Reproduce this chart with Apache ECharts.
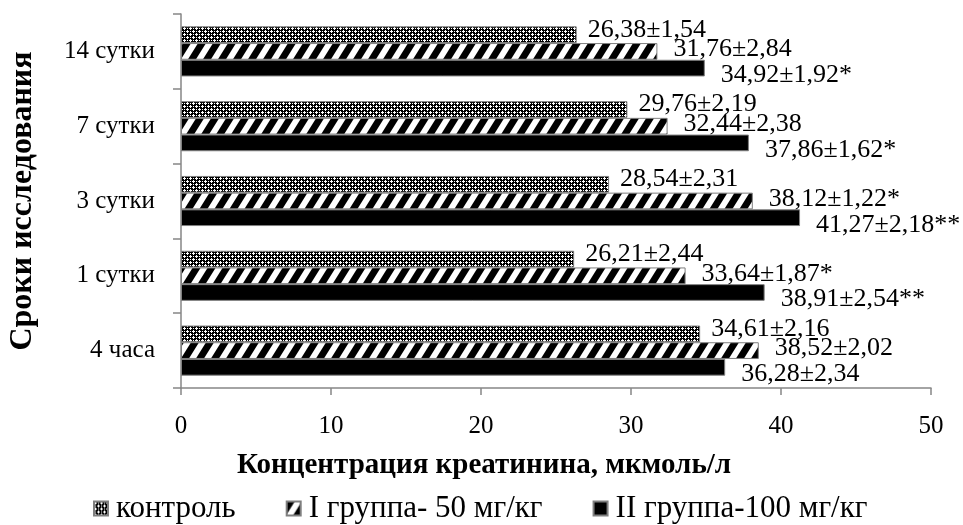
<!DOCTYPE html>
<html>
<head>
<meta charset="utf-8">
<script src="https://cdn.jsdelivr.net/npm/echarts@6/dist/echarts.min.js"></script>
<style>
html,body{margin:0;padding:0;background:#fff;}
#chart{width:963px;height:525px;}
</style>
</head>
<body>
<div id="chart"></div>
<script>
// Categories from bottom to top
var categories = ['4 часа', '1 сутки', '3 сутки', '7 сутки', '14 сутки'];
var seriesNames = ['контроль', 'I группа- 50 мг/кг', 'II группа-100 мг/кг'];

var controlMean = [34.61, 26.21, 28.54, 29.76, 26.38];
var controlSD   = [2.16, 2.44, 2.31, 2.19, 1.54];
var controlMark = ['', '', '', '', ''];

var group1Mean = [38.52, 33.64, 38.12, 32.44, 31.76];
var group1SD   = [2.02, 1.87, 1.22, 2.38, 2.84];
var group1Mark = ['', '*', '*', '', ''];

var group2Mean = [36.28, 38.91, 41.27, 37.86, 34.92];
var group2SD   = [2.34, 2.54, 2.18, 1.62, 1.92];
var group2Mark = ['', '**', '**', '*', '*'];

var xTicks = { min: 0, max: 50, interval: 10 };

function fmt(v) { return v.toFixed(2).replace('.', ','); }
function labels(mean, sd, mark) {
  return mean.map(function (m, i) { return fmt(m) + '±' + fmt(sd[i]) + mark[i]; });
}

function makeTile(w, h, draw) {
  var c = document.createElement('canvas');
  c.width = w; c.height = h;
  var ctx = c.getContext('2d');
  ctx.fillStyle = '#fff';
  ctx.fillRect(0, 0, w, h);
  ctx.fillStyle = '#000';
  draw(ctx);
  return c;
}

// Control: dark ground with small white crosses
var ctrlRows = [
  '#.####',
  '...#.#',
  '#.####',
  '####.#',
  '#.#...',
  '####.#'
];
var ctrlTile = makeTile(6, 6, function (ctx) {
  for (var y = 0; y < ctrlRows.length; y++) {
    for (var x = 0; x < ctrlRows[y].length; x++) {
      if (ctrlRows[y][x] === '#') ctx.fillRect(x, y, 1, 1);
    }
  }
});

// Group I: wide forward diagonal stripes
var SW = 15, SH = 24, BW = 8;
var stripeTile = makeTile(SW, SH, function (ctx) {
  for (var k = -1; k <= 1; k++) {
    var a = k * SW;
    ctx.beginPath();
    ctx.moveTo(a + SW, 0);
    ctx.lineTo(a + SW + BW, 0);
    ctx.lineTo(a + BW, SH);
    ctx.lineTo(a, SH);
    ctx.closePath();
    ctx.fill();
  }
});

var ctrlColor = { image: ctrlTile, repeat: 'repeat' };
var stripeColor = { image: stripeTile, repeat: 'repeat' };

var FONT = "'Liberation Serif', 'Times New Roman', serif";

function barSeries(name, mean, lbls, color, dist, dy) {
  return {
    name: name,
    type: 'bar',
    data: mean,
    barGap: '0%',
    barCategoryGap: '33%',
    itemStyle: { color: color, borderColor: '#7f7f7f', borderWidth: 1 },
    label: {
      show: true,
      position: 'right',
      distance: dist,
      offset: [0, dy],
      color: '#000',
      fontFamily: FONT,
      fontSize: 26,
      formatter: function (p) { return lbls[p.dataIndex]; }
    },
    emphasis: { disabled: true }
  };
}

var chart = echarts.init(document.getElementById('chart'), null, { renderer: 'canvas' });
chart.setOption({
  animation: false,
  backgroundColor: '#fff',
  grid: { left: 181, right: 32, top: 14, bottom: 137, containLabel: false, outerBoundsMode: 'none' },
  legend: {
    data: seriesNames,
    left: 88,
    top: 488,
    itemWidth: 14,
    itemHeight: 14,
    itemGap: 50,
    icon: 'rect',
    textStyle: { fontFamily: FONT, fontSize: 31, color: '#000', padding: [0, 0, 0, 3] }
  },
  xAxis: {
    type: 'value',
    min: xTicks.min, max: xTicks.max, interval: xTicks.interval,
    name: 'Концентрация креатинина, мкмоль/л',
    nameLocation: 'middle',
    nameGap: 63,
    nameTextStyle: { fontFamily: FONT, fontSize: 29, fontWeight: 'bold', color: '#000', padding: [0, 144, 0, 0] },
    axisLine: { show: true, lineStyle: { color: '#868686', width: 1.5 } },
    axisTick: { show: true, length: 7, lineStyle: { color: '#868686', width: 1.5 } },
    splitLine: { show: false },
    axisLabel: { fontFamily: FONT, fontSize: 25, color: '#000', margin: 26 }
  },
  yAxis: {
    type: 'category',
    data: categories,
    name: 'Сроки исследования',
    nameLocation: 'middle',
    nameRotate: 90,
    nameGap: 142,
    nameTextStyle: { fontFamily: FONT, fontSize: 32, fontWeight: 'bold', color: '#000' },
    axisLine: { show: true, lineStyle: { color: '#868686', width: 1.5 } },
    axisTick: { show: true, length: 8, lineStyle: { color: '#868686', width: 1.5 } },
    axisLabel: { fontFamily: FONT, fontSize: 25, color: '#000', margin: 26 }
  },
  series: [
    barSeries(seriesNames[0], controlMean, labels(controlMean, controlSD, controlMark), ctrlColor, 11, -5),
    barSeries(seriesNames[1], group1Mean, labels(group1Mean, group1SD, group1Mark), stripeColor, 16, -2),
    barSeries(seriesNames[2], group2Mean, labels(group2Mean, group2SD, group2Mark), '#000', 16, 7)
  ]
});
</script>
</body>
</html>
